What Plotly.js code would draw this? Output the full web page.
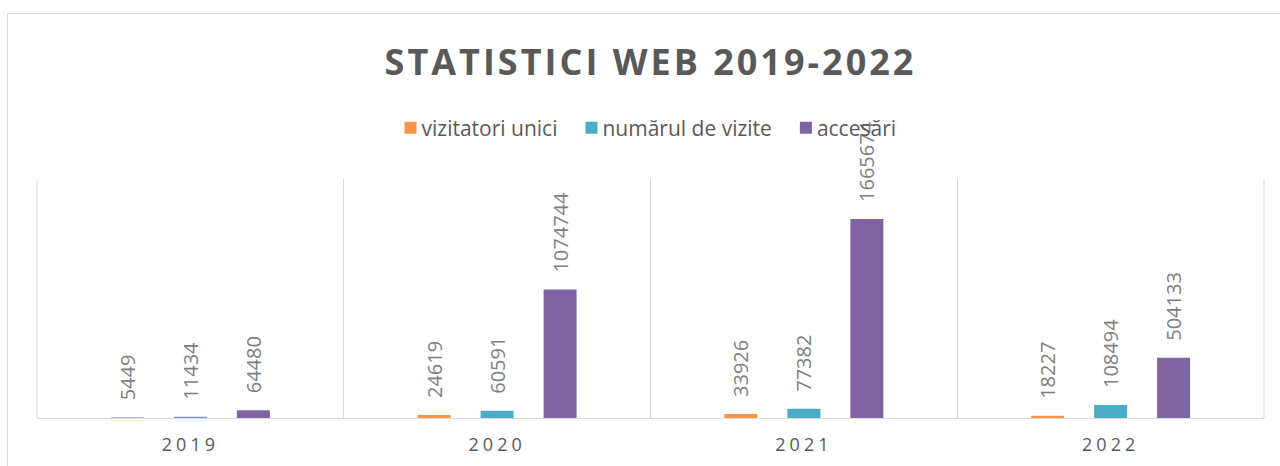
<!DOCTYPE html>
<html><head><meta charset="utf-8">
<script src="https://cdn.plot.ly/plotly-3.0.1.min.js"></script>
<style>
html,body{margin:0;padding:0;background:#fff;overflow:hidden;}
#chart{width:1280px;height:466px;}
#frame{position:absolute;left:7px;top:13px;width:1300px;height:500px;border-left:1px solid #d9d9d9;border-top:1px solid #d9d9d9;pointer-events:none;}
.gtitle{letter-spacing:3px;}
.xtick text{letter-spacing:4px;}
</style></head>
<body><div id="chart"></div><div id="frame"></div>
<script>
const years = ['2019', '2020', '2021', '2022'];
const seriesNames = ['vizitatori unici', 'numărul de vizite', 'accesări'];
const vizitatoriUnici = [5449, 24619, 33926, 18227];
const numarulDeVizite = [11434, 60591, 77382, 108494];
const accesari = [64480, 1074744, 1665674, 504133];
const colors = ['#F79646', '#4BACC6', '#8064A2'];

const allSeries = [vizitatoriUnici, numarulDeVizite, accesari];
const traces = allSeries.map((vals, i) => ({
  type: 'bar',
  name: seriesNames[i],
  x: years,
  y: vals,
  marker: {color: colors[i]},
  text: vals.map(String),
  textposition: 'outside',
  textangle: -90,
  cliponaxis: false,
  constraintext: 'none',
  outsidetextfont: {family: 'Open Sans', size: 20, color: '#7f7f7f'},
  hoverinfo: 'x+y+name'
}));

const layout = {
  width: 1280, height: 466,
  paper_bgcolor: '#fff', plot_bgcolor: '#fff',
  font: {family: 'Open Sans', color: '#595959'},
  margin: {l: 37, r: 16, t: 179, b: 48, pad: 0},
  title: {
    text: 'STATISTICI WEB 2019-2022',
    font: {family: 'Open Sans', size: 36, color: '#595959', weight: 700},
    x: 0.5, xref: 'paper', xanchor: 'center',
    y: 1 - 62 / 466, yref: 'container', yanchor: 'middle'
  },
  showlegend: true,
  legend: {
    orientation: 'h', x: 0.5, xref: 'paper', xanchor: 'center',
    y: 1 - 128 / 466, yref: 'container', yanchor: 'middle',
    bgcolor: 'rgba(0,0,0,0)',
    font: {family: 'Open Sans', size: 21, color: '#595959'}
  },
  barmode: 'group',
  bargap: 0.384,
  bargroupgap: 0.476,
  xaxis: {
    type: 'category',
    showgrid: true, gridcolor: '#d9d9d9', gridwidth: 1,
    tickson: 'boundaries',
    ticks: '',
    showline: true, linecolor: '#d9d9d9', linewidth: 1,
    zeroline: false,
    tickfont: {family: 'Open Sans', size: 18, color: '#595959'},
    ticklabelstandoff: 10
  },
  yaxis: {
    range: [0, 2000000],
    visible: false,
    showgrid: false, zeroline: false
  },
  shapes: [0, 1].map(px => ({
    type: 'line', xref: 'paper', yref: 'paper',
    x0: px, x1: px, y0: 0, y1: 1,
    line: {color: '#d9d9d9', width: 1},
    layer: 'below'
  }))
};

Plotly.newPlot('chart', traces, layout, {displayModeBar: false, staticPlot: true}).then(() => {
  document.querySelectorAll('.bartext').forEach(t => {
    const tr = t.getAttribute('transform') || '';
    t.setAttribute('transform', 'translate(0,-14) ' + tr);
  });
  document.querySelectorAll('.legendtext').forEach(t => {
    const x = parseFloat(t.getAttribute('x') || '0');
    t.setAttribute('x', x - 9);
  });
});
</script>
</body></html>
